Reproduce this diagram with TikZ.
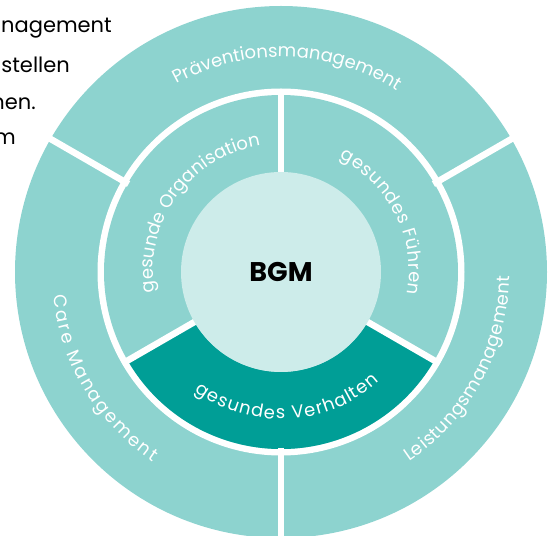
\documentclass[tikz,border=0pt]{standalone}
\usepackage{fontspec}
\setmainfont{Poppins}[BoldFont={* Bold}]
\usetikzlibrary{decorations.text}

\definecolor{ringlight}{RGB}{141,211,207}
\definecolor{ringdark}{RGB}{0,158,150}
\definecolor{corepale}{RGB}{205,236,234}

\tikzset{
  gap/.style={white, line width=6.5pt},
  bgm/.style={font=\fontsize{27}{27}\selectfont\bfseries, text=black},
  side/.style={anchor=base east, inner sep=0pt, font=\fontsize{21}{21}\selectfont, text=black},
  ringlabel/.style={decorate, decoration={text along path, text color=white,
      text align={fit to path}, text={|\fontsize{18}{18}\selectfont|#1}}}
}

\begin{document}
\begin{tikzpicture}[x=1pt,y=1pt]
  \useasboundingbox (0,0) rectangle (555,536);
  \clip (0,0) rectangle (555,536);

  % Text cut off at the left
  \node[side] (line1) at (112,503) {nagement};
  \node[side] (line2) at (70,463) {stellen};
  \node[side] (line3) at (36,426) {hen.};
  \node[side] (line4) at (16,391) {m};

  \begin{scope}[shift={(281,264)}]
    % Outer ring
    \fill[ringlight] (0,0) circle (266);
    \fill[white] (0,0) circle (183.5);

    % Middle ring
    \fill[ringlight] (0,0) circle (177);
    \fill[ringdark] (210:100) -- (210:177) arc[start angle=210, end angle=330, radius=177]
      -- (330:100) arc[start angle=330, end angle=210, radius=100] -- cycle;

    % Gaps
    \foreach \a in {30,150,270}
      \draw[gap] (\a:176) -- (\a:275);
    \foreach \a in {90,210,330}
      \draw[gap] (\a:95) -- (\a:180);

    % Core
    \fill[corepale] (0,0) circle (100);
    \node[bgm] (core) at (0,0) {BGM};

    % Outer labels
    \path[ringlabel=Präventionsmanagement] (119:215) arc[start angle=119, end angle=58, radius=215];
    \path[ringlabel=Care Management] (186:229) arc[start angle=186, end angle=236, radius=229];
    \path[ringlabel=Leistungsmanagement] (304:229) arc[start angle=304, end angle=359, radius=229];

    % Middle labels
    \path[ringlabel=gesunde Organisation] (189:128) arc[start angle=189, end angle=100, radius=128];
    \path[ringlabel=gesundes Führen] (63:128) arc[start angle=63, end angle=-10, radius=128];
    \path[ringlabel=gesundes Verhalten] (234:147) arc[start angle=234, end angle=312, radius=147];
  \end{scope}
\end{tikzpicture}
\end{document}
